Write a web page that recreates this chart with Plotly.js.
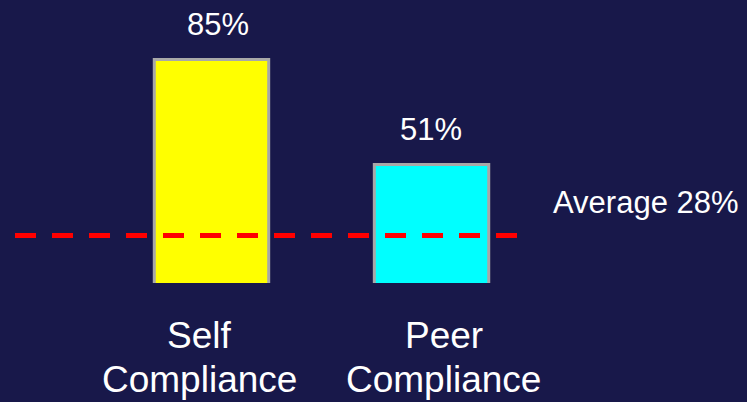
<!DOCTYPE html>
<html>
<head>
<meta charset="utf-8">
<script src="https://cdn.plot.ly/plotly-3.0.1.min.js"></script>
<style>
  html, body { margin: 0; padding: 0; background: #18184a; }
  #chart { width: 747px; height: 402px; }
</style>
</head>
<body>
<div id="chart"></div>
<script>
// Compliance rates shown as bars, with the overall average as a dashed line
const categories = ["Self Compliance", "Peer Compliance"];
const rates = [85, 51];
const averageRate = 28;
const barColors = ["#ffff00", "#00ffff"];

const BG = "#18184a";
const FONT = "Liberation Sans, Arial, sans-serif";

// small horizontal nudges for the value labels and the category captions
const valueLabelShift = [7, -1];
const captionShift = [-12, 12];

const bars = {
  type: "bar",
  x: categories,
  y: rates,
  width: 0.52,
  marker: {
    color: barColors,
    line: { color: "#a8a8a8", width: 3 }
  },
  hoverinfo: "skip"
};

const annotations = [];

// percentage above each bar
categories.forEach((c, i) => {
  annotations.push({
    x: c, y: rates[i], xref: "x", yref: "y",
    text: rates[i] + "%",
    showarrow: false,
    xanchor: "center", yanchor: "middle",
    xshift: valueLabelShift[i], yshift: 35,
    font: { family: FONT, size: 31, color: "#ffffff" }
  });
});

// category captions, one word per line beneath each bar
categories.forEach((c, i) => {
  c.split(" ").forEach((word, line) => {
    annotations.push({
      x: c, y: 0, xref: "x", yref: "paper",
      text: word,
      showarrow: false,
      xanchor: "center", yanchor: "middle",
      xshift: captionShift[i], yshift: -52 - line * 44,
      font: { family: FONT, size: 37, color: "#ffffff" }
    });
  });
});

// label for the average line, to the right of the plot
annotations.push({
  x: 1, y: averageRate, xref: "paper", yref: "y",
  text: "Average " + averageRate + "%",
  showarrow: false,
  xanchor: "left", yanchor: "middle",
  xshift: 33, yshift: 33,
  font: { family: FONT, size: 31, color: "#ffffff" }
});

const layout = {
  width: 747,
  height: 402,
  margin: { l: 15, r: 229, t: 0, b: 119 },
  paper_bgcolor: BG,
  plot_bgcolor: BG,
  showlegend: false,
  hovermode: false,
  xaxis: {
    type: "category",
    range: [-0.893, 1.393],
    showgrid: false, zeroline: false, showline: false,
    showticklabels: false, ticks: ""
  },
  yaxis: {
    range: [12.6, 104.3],
    showgrid: false, zeroline: false, showline: false,
    showticklabels: false, ticks: ""
  },
  shapes: [{
    type: "line",
    xref: "paper", yref: "y",
    x0: 0, x1: 1, y0: averageRate, y1: averageRate,
    line: { color: "#ff0000", width: 5, dash: "21px,16px" },
    layer: "above"
  }],
  annotations: annotations
};

Plotly.newPlot("chart", [bars], layout, { displayModeBar: false, staticPlot: true });
</script>
</body>
</html>
